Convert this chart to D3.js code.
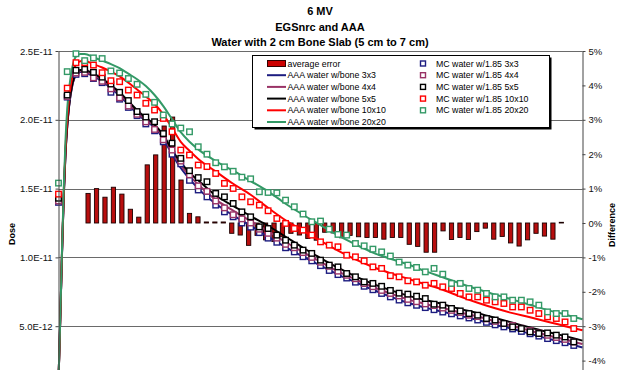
<!DOCTYPE html>
<html>
<head>
<meta charset="utf-8">
<script src="https://cdn.jsdelivr.net/npm/d3@7"></script>
<style>
  body { margin: 0; background: #fff; }
  svg { display: block; font-family: Arial, "Liberation Sans", sans-serif; }
</style>
</head>
<body>
<div id="chart"></div>
<script>
'use strict';

const titleLines = ['6 MV', 'EGSnrc and AAA', 'Water with 2 cm Bone Slab (5 cm to 7 cm)'];

// AAA calculation, depth in cm, dose in units of 1E-11
const aaaDepth = [0, 0.1, 0.2, 0.3, 0.4, 0.5, 0.6, 0.8, 1.0, 1.25, 1.5, 2, 2.5, 3, 3.5, 4, 4.5, 5, 5.5, 6, 6.5, 7, 7.5, 8,
  9, 10, 11, 12, 13, 14, 15, 16, 17, 18, 19, 20, 21, 22, 23, 24, 25, 26, 27, 28, 29, 30];
const aaa3x3 = [0.1, 0.55, 1.02, 1.44, 1.75, 1.95, 2.09, 2.255, 2.325, 2.348, 2.345, 2.315, 2.28, 2.23, 2.175, 2.11, 2.045, 1.99, 1.945, 1.86, 1.75, 1.65, 1.57, 1.5,
  1.39, 1.305, 1.23, 1.15, 1.075, 1.005, 0.94, 0.875, 0.82, 0.765, 0.715, 0.67, 0.635, 0.605, 0.575, 0.545, 0.51, 0.48, 0.445, 0.41, 0.38, 0.345];
const aaa4x4 = [0.1, 0.55, 1.025, 1.445, 1.755, 1.955, 2.095, 2.26, 2.33, 2.355, 2.352, 2.325, 2.29, 2.24, 2.188, 2.122, 2.055, 2.0, 1.955, 1.875, 1.765, 1.67, 1.592, 1.53,
  1.42, 1.34, 1.265, 1.19, 1.112, 1.038, 0.968, 0.898, 0.84, 0.785, 0.738, 0.695, 0.662, 0.632, 0.6, 0.57, 0.535, 0.502, 0.468, 0.434, 0.404, 0.37];
const aaa5x5 = [0.1, 0.55, 1.03, 1.45, 1.76, 1.96, 2.1, 2.265, 2.335, 2.362, 2.362, 2.335, 2.3, 2.25, 2.2, 2.135, 2.07, 2.015, 1.965, 1.89, 1.78, 1.69, 1.615, 1.56,
  1.45, 1.375, 1.3, 1.23, 1.15, 1.07, 0.995, 0.925, 0.862, 0.808, 0.762, 0.722, 0.69, 0.66, 0.625, 0.595, 0.56, 0.525, 0.49, 0.458, 0.428, 0.395];
const aaa10x10 = [0.1, 0.55, 1.04, 1.47, 1.79, 2.0, 2.15, 2.32, 2.40, 2.425, 2.427, 2.405, 2.38, 2.35, 2.315, 2.27, 2.22, 2.17, 2.115, 2.04, 1.94, 1.84, 1.775, 1.715,
  1.625, 1.535, 1.455, 1.36, 1.27, 1.195, 1.12, 1.05, 0.985, 0.93, 0.885, 0.845, 0.805, 0.765, 0.715, 0.67, 0.63, 0.595, 0.565, 0.533, 0.5, 0.47];
const aaa20x20 = [0.1, 0.55, 1.05, 1.5, 1.85, 2.08, 2.22, 2.385, 2.46, 2.478, 2.478, 2.455, 2.43, 2.405, 2.375, 2.335, 2.295, 2.245, 2.18, 2.1, 2.005, 1.91, 1.84, 1.785,
  1.70, 1.63, 1.555, 1.48, 1.39, 1.31, 1.235, 1.16, 1.095, 1.035, 0.99, 0.95, 0.9, 0.856, 0.81, 0.768, 0.73, 0.693, 0.655, 0.617, 0.585, 0.55];

// Monte Carlo, depth in cm, dose in units of 1E-11
const mcDepth = [0, 0.5, 1, 1.5, 2, 2.5, 3, 3.5, 4, 4.5, 5, 5.5, 6, 6.5, 7, 7.5, 8, 8.5, 9, 9.5,
  10, 10.5, 11, 11.5, 12, 12.5, 13, 13.5, 14, 14.5, 15, 15.5, 16, 16.5, 17, 17.5, 18, 18.5, 19, 19.5,
  20, 20.5, 21, 21.5, 22, 22.5, 23, 23.5, 24, 24.5, 25, 25.5, 26, 26.5, 27, 27.5, 28, 28.5, 29, 29.5];
const mc3x3 = [1.40, 2.165, 2.33, 2.335, 2.30, 2.27, 2.2, 2.15, 2.09, 2.03, 1.97, 1.92, 1.84, 1.75, 1.68, 1.56, 1.49, 1.44, 1.38, 1.331,
  1.295, 1.25, 1.22, 1.18, 1.14, 1.11, 1.07, 1.04, 1.005, 0.975, 0.94, 0.905, 0.875, 0.85, 0.82, 0.79, 0.765, 0.738, 0.713, 0.69,
  0.67, 0.652, 0.635, 0.62, 0.603, 0.59, 0.575, 0.56, 0.545, 0.528, 0.51, 0.495, 0.48, 0.462, 0.445, 0.428, 0.41, 0.395, 0.38, 0.36];
const mc4x4 = [1.41, 2.17, 2.34, 2.345, 2.305, 2.28, 2.225, 2.16, 2.1, 2.04, 1.985, 1.93, 1.855, 1.78, 1.7, 1.6, 1.52, 1.48, 1.41, 1.36,
  1.31, 1.28, 1.25, 1.205, 1.175, 1.14, 1.095, 1.07, 1.035, 1.0, 0.965, 0.935, 0.9, 0.87, 0.845, 0.81, 0.787, 0.76, 0.738, 0.72,
  0.695, 0.678, 0.662, 0.65, 0.632, 0.615, 0.6, 0.58, 0.57, 0.553, 0.535, 0.52, 0.505, 0.485, 0.468, 0.45, 0.434, 0.418, 0.404, 0.385];
const mc5x5 = [1.43, 2.18, 2.36, 2.367, 2.345, 2.31, 2.26, 2.2, 2.14, 2.06, 2.02, 1.986, 1.9, 1.83, 1.72, 1.63, 1.58, 1.55, 1.465, 1.44,
  1.392, 1.331, 1.295, 1.222, 1.21, 1.162, 1.125, 1.089, 1.053, 1.029, 0.98, 0.944, 0.931, 0.883, 0.859, 0.822, 0.811, 0.79, 0.76, 0.74,
  0.733, 0.718, 0.701, 0.66, 0.653, 0.629, 0.611, 0.592, 0.58, 0.556, 0.545, 0.52, 0.495, 0.483, 0.459, 0.447, 0.451, 0.435, 0.422, 0.386];
const mc10x10 = [1.46, 2.23, 2.415, 2.415, 2.398, 2.342, 2.284, 2.277, 2.216, 2.18, 2.12, 2.071, 2.01, 1.913, 1.78, 1.744, 1.671, 1.66, 1.61, 1.538,
  1.501, 1.44, 1.404, 1.38, 1.339, 1.283, 1.247, 1.21, 1.198, 1.162, 1.113, 1.089, 1.077, 1.016, 1.004, 0.975, 0.931, 0.92, 0.867, 0.859,
  0.83, 0.822, 0.798, 0.811, 0.786, 0.774, 0.738, 0.713, 0.713, 0.689, 0.677, 0.665, 0.64, 0.64, 0.616, 0.592, 0.568, 0.556, 0.531, 0.483];
const mc20x20 = [1.54, 2.35, 2.48, 2.43, 2.45, 2.445, 2.355, 2.34, 2.30, 2.258, 2.185, 2.127, 2.035, 1.97, 1.94, 1.913, 1.804, 1.75, 1.688, 1.658,
  1.626, 1.583, 1.571, 1.477, 1.472, 1.469, 1.416, 1.368, 1.315, 1.259, 1.264, 1.205, 1.167, 1.162, 1.101, 1.084, 1.06, 1.04, 1.01, 0.966,
  0.944, 0.927, 0.895, 0.92, 0.878, 0.811, 0.811, 0.774, 0.762, 0.738, 0.713, 0.713, 0.689, 0.689, 0.677, 0.653, 0.604, 0.592, 0.592, 0.556];

// average error (%), one value per column category (null = no column)
const errorPct = [null, null, null,
  0.86, 1.0, 0.75, 1.04, 0.84, 0.40, 0.17, 1.69, 1.98, 2.82, 3.08, 1.25, 0.28, 0.18, 0.03, 0.03, 0.03,
  -0.30, -0.35, -0.65, -0.36, -0.49, -0.54, -0.40, -0.30, -0.35, -0.45, -0.50, -0.27, -0.29, -0.43, -0.36, -0.40, -0.42, -0.42, -0.47, -0.42,
  -0.42, -0.62, -0.68, -0.85, -0.85, -0.23, -0.48, -0.42, -0.48, -0.25, -0.15, -0.47, -0.39, -0.58, -0.67, -0.49, -0.30, -0.38, -0.47, 0.02,
  null, null];

const fieldSizes = ['3x3', '4x4', '5x5', '10x10', '20x20'];
const seriesColors = ['#1c1c80', '#993366', '#000000', '#ff0000', '#339966'];
const aaaSeries = [aaa3x3, aaa4x4, aaa5x5, aaa10x10, aaa20x20];
const mcSeries = [mc3x3, mc4x4, mc5x5, mc10x10, mc20x20];

// only the ticks that fall inside the cropped picture get labels
const doseTicks = [0.5, 1.0, 1.5, 2.0, 2.5];
const diffTicks = [-4, -3, -2, -1, 0, 1, 2, 3, 4, 5];

function drawChart() {

	const width = 630;
	const height = 370;
	const plot = { left: 58.5, right: 582.5, top: 51, bottom: 395 };

	const svg = d3.select('#chart')
		.append('svg')
		.attr('width', width)
		.attr('height', height);

	const x = d3.scaleLinear().domain([0, 30]).range([plot.left, plot.right]);
	const y = d3.scaleLinear().domain([0, 2.5]).range([plot.bottom, plot.top]);
	const yDiff = d3.scaleLinear().domain([-5, 5]).range([plot.bottom, plot.top]);
	const xCat = d3.scaleBand()
		.domain(errorPct.map((d, i) => i))
		.range([plot.left, plot.right])
		.paddingInner(0.5)
		.paddingOuter(0.25);

	// titles
	svg.append('g')
		.selectAll('text')
		.data(titleLines)
		.enter()
		.append('text')
		.attr('x', 320)
		.attr('y', (d, i) => [14.5, 31, 45.5][i])
		.attr('text-anchor', 'middle')
		.attr('font-size', 11)
		.attr('font-weight', 'bold')
		.text(d => d);

	// gridlines
	svg.append('g')
		.selectAll('line')
		.data(doseTicks)
		.enter()
		.append('line')
		.attr('x1', plot.left)
		.attr('x2', plot.right)
		.attr('y1', d => Math.round(y(d)) + 0.5)
		.attr('y2', d => Math.round(y(d)) + 0.5)
		.attr('stroke', '#6a6a6a')
		.attr('stroke-width', 1);

	// average error columns
	svg.append('g')
		.selectAll('rect')
		.data(errorPct.map((v, i) => ({ i: i, v: v })).filter(d => d.v !== null))
		.enter()
		.append('rect')
		.attr('x', d => xCat(d.i))
		.attr('width', xCat.bandwidth())
		.attr('y', d => Math.min(yDiff(d.v), yDiff(0)))
		.attr('height', d => Math.max(Math.abs(yDiff(d.v) - yDiff(0)), 0.6))
		.attr('fill', '#b80e0e')
		.attr('stroke', '#1a0000')
		.attr('stroke-width', 0.9);

	// AAA lines
	const line = d3.line()
		.x((d, i) => x(aaaDepth[i]))
		.y(d => y(d))
		.curve(d3.curveMonotoneX);

	svg.append('g')
		.selectAll('path')
		.data(aaaSeries)
		.enter()
		.append('path')
		.attr('d', line)
		.attr('fill', 'none')
		.attr('stroke', (d, i) => seriesColors[i])
		.attr('stroke-width', 2);

	// MC markers
	const sq = 5.5;
	mcSeries.forEach(function(series, s) {
		svg.append('g')
			.selectAll('rect')
			.data(series)
			.enter()
			.append('rect')
			.attr('x', (d, i) => x(mcDepth[i]) - sq / 2)
			.attr('y', d => y(d) - sq / 2)
			.attr('width', sq)
			.attr('height', sq)
			.attr('fill', '#fff')
			.attr('stroke', seriesColors[s])
			.attr('stroke-width', 1.4);
	});

	// axes
	const leftAxis = d3.axisLeft(y)
		.tickValues(doseTicks)
		.tickSize(3)
		.tickSizeOuter(0)
		.tickFormat(d => d3.format('.1e')(d * 1e-11).toUpperCase());

	const gLeft = svg.append('g')
		.attr('transform', `translate(${plot.left},0)`)
		.call(leftAxis);

	const rightAxis = d3.axisRight(yDiff)
		.tickValues(diffTicks)
		.tickSize(3)
		.tickSizeOuter(0)
		.tickFormat(d => d + '%');

	const gRight = svg.append('g')
		.attr('transform', `translate(${plot.right},0)`)
		.call(rightAxis);

	[gLeft, gRight].forEach(function(g) {
		g.selectAll('path, line').attr('stroke', '#444');
		g.selectAll('text')
			.attr('font-family', 'Arial, "Liberation Sans", sans-serif')
			.attr('fill', '#111');
	});
	gLeft.selectAll('text').attr('x', -6).attr('font-size', 9.5);
	gRight.selectAll('text').attr('x', 6).attr('font-size', 9.5);

	// axis titles
	svg.append('text')
		.attr('transform', 'translate(15,234) rotate(-90)')
		.attr('text-anchor', 'middle')
		.attr('font-size', 9)
		.attr('font-weight', 'bold')
		.text('Dose');

	svg.append('text')
		.attr('transform', 'translate(615,225) rotate(-90)')
		.attr('text-anchor', 'middle')
		.attr('font-size', 9)
		.attr('font-weight', 'bold')
		.text('Difference');

	// legend
	const lg = { x: 252.5, y: 55.5, w: 297, h: 72 };
	const legend = svg.append('g');

	legend.append('rect')
		.attr('x', lg.x + 2)
		.attr('y', lg.y + 2)
		.attr('width', lg.w)
		.attr('height', lg.h)
		.attr('fill', '#000');

	legend.append('rect')
		.attr('x', lg.x)
		.attr('y', lg.y)
		.attr('width', lg.w)
		.attr('height', lg.h)
		.attr('fill', '#fff')
		.attr('stroke', '#000')
		.attr('stroke-width', 1);

	const rowY = i => 63.5 + i * 11.7;

	legend.append('rect')
		.attr('x', 267.5)
		.attr('y', rowY(0) - 3)
		.attr('width', 18)
		.attr('height', 6)
		.attr('fill', '#cc0000')
		.attr('stroke', '#330000')
		.attr('stroke-width', 1);

	legend.selectAll('line.key')
		.data(fieldSizes)
		.enter()
		.append('line')
		.attr('x1', 267)
		.attr('x2', 286)
		.attr('y1', (d, i) => rowY(i + 1))
		.attr('y2', (d, i) => rowY(i + 1))
		.attr('stroke', (d, i) => seriesColors[i])
		.attr('stroke-width', 2);

	const leftLabels = ['average error'].concat(fieldSizes.map(f => 'AAA water w/bone ' + f));

	legend.selectAll('text.left')
		.data(leftLabels)
		.enter()
		.append('text')
		.attr('x', 287.5)
		.attr('y', (d, i) => rowY(i))
		.attr('dy', '0.35em')
		.attr('font-size', 8.8)
		.text(d => d);

	legend.selectAll('rect.mc')
		.data(fieldSizes)
		.enter()
		.append('rect')
		.attr('x', 420.5)
		.attr('y', (d, i) => rowY(i) - 2.5)
		.attr('width', 5)
		.attr('height', 5)
		.attr('fill', '#fff')
		.attr('stroke', (d, i) => seriesColors[i])
		.attr('stroke-width', 1.4);

	legend.selectAll('text.right')
		.data(fieldSizes)
		.enter()
		.append('text')
		.attr('x', 436)
		.attr('y', (d, i) => rowY(i))
		.attr('dy', '0.35em')
		.attr('font-size', 8.8)
		.text(d => 'MC water w/1.85 ' + d);
}

drawChart();
</script>
</body>
</html>
